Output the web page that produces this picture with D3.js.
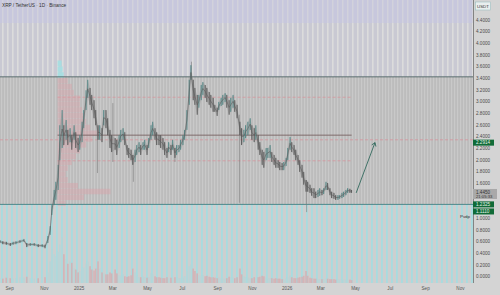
<!DOCTYPE html>
<html>
<head>
<meta charset="utf-8">
<script src="https://cdn.jsdelivr.net/npm/d3@7"></script>
<style>
  body { margin: 0; background: #d4d4d4; }
  svg { display: block; font-family: "Liberation Sans", Arial, sans-serif; }
</style>
</head>
<body>
<div id="chart"></div>
<script>
const WIDTH = 500;
const HEIGHT = 295;
const PLOT_W = 473;
const PLOT_H = 283;

// daily-ish samples of XRP/USDT, grouped by month
const dates = [
  '2024-08-16','2024-08-21','2024-08-27','2024-09-03','2024-09-08','2024-09-13','2024-09-20','2024-09-27','2024-10-02','2024-10-08','2024-10-15','2024-10-22','2024-10-29',
  '2024-11-03','2024-11-08','2024-11-12','2024-11-15','2024-11-19','2024-11-22','2024-11-26','2024-11-29',
  '2024-12-03','2024-12-06','2024-12-10','2024-12-13','2024-12-17','2024-12-20','2024-12-24','2024-12-27','2024-12-31',
  '2025-01-03','2025-01-07','2025-01-10','2025-01-14','2025-01-17','2025-01-21','2025-01-24','2025-01-28','2025-01-31',
  '2025-02-04','2025-02-07','2025-02-11','2025-02-14','2025-02-18','2025-02-21','2025-02-25','2025-02-28',
  '2025-03-06','2025-03-09','2025-03-13','2025-03-16','2025-03-20','2025-03-23','2025-03-27','2025-03-30',
  '2025-04-03','2025-04-06','2025-04-10','2025-04-13','2025-04-17','2025-04-20','2025-04-24','2025-04-27',
  '2025-05-01','2025-05-04','2025-05-08','2025-05-11','2025-05-15','2025-05-18','2025-05-22','2025-05-25','2025-05-29',
  '2025-06-01','2025-06-05','2025-06-08','2025-06-12','2025-06-15','2025-06-19','2025-06-22','2025-06-26','2025-06-29',
  '2025-07-03','2025-07-06','2025-07-10','2025-07-14','2025-07-17','2025-07-21','2025-07-24','2025-07-28','2025-07-31',
  '2025-08-04','2025-08-07','2025-08-11','2025-08-14','2025-08-18','2025-08-21','2025-08-25','2025-08-28',
  '2025-09-01','2025-09-04','2025-09-08','2025-09-11','2025-09-15','2025-09-18','2025-09-22','2025-09-25','2025-09-29',
  '2025-10-02','2025-10-06','2025-10-11','2025-10-14','2025-10-18','2025-10-21','2025-10-25','2025-10-29',
  '2025-11-01','2025-11-05','2025-11-08','2025-11-12','2025-11-15','2025-11-19','2025-11-22','2025-11-26','2025-11-29',
  '2025-12-03','2025-12-06','2025-12-10','2025-12-13','2025-12-17','2025-12-20','2025-12-24','2025-12-27','2025-12-31',
  '2026-01-03','2026-01-07','2026-01-10','2026-01-14','2026-01-17','2026-01-21','2026-01-24','2026-01-28','2026-01-31',
  '2026-02-04','2026-02-07','2026-02-11','2026-02-14','2026-02-18','2026-02-21','2026-02-25','2026-02-28',
  '2026-03-04','2026-03-07','2026-03-11','2026-03-14','2026-03-18','2026-03-21','2026-03-25','2026-03-28',
  '2026-04-01','2026-04-04','2026-04-08','2026-04-11','2026-04-15','2026-04-18','2026-04-22','2026-04-25'
];
const highs = [
  0.62,0.60,0.59,0.57,0.59,0.60,0.62,0.64,0.57,0.57,0.57,0.55,0.55,
  0.54,0.69,0.86,1.22,1.48,1.62,1.91,2.59,
  2.85,2.59,2.68,2.51,2.54,2.42,2.59,2.47,2.37,
  2.42,2.65,2.85,3.19,3.37,3.23,3.11,3.02,2.85,
  2.59,2.59,2.54,2.85,2.85,2.71,2.51,2.42,
  2.37,2.34,2.42,2.51,2.54,2.47,2.25,2.20,
  2.17,2.08,2.17,2.25,2.30,2.25,2.30,2.34,
  2.25,2.37,2.59,2.65,2.54,2.47,2.42,2.42,2.37,
  2.30,2.20,2.30,2.25,2.34,2.20,2.25,2.25,2.34,
  2.42,2.51,2.85,3.37,3.62,3.37,3.23,3.11,3.11,
  3.28,3.33,3.28,3.23,3.16,3.11,3.06,2.94,
  2.89,2.99,3.06,3.11,3.14,3.11,3.02,3.06,3.11,
  3.02,2.94,2.65,2.54,2.51,2.59,2.65,2.71,
  2.59,2.54,2.59,2.42,2.30,2.17,2.13,2.20,2.20,
  2.25,2.13,2.08,2.03,1.99,1.96,1.94,1.96,2.03,
  2.20,2.39,2.30,2.25,2.17,2.08,1.99,1.91,1.79,
  1.65,1.62,1.57,1.51,1.51,1.45,1.48,1.51,
  1.48,1.51,1.62,1.60,1.51,1.45,1.43,1.39,
  1.39,1.39,1.43,1.45,1.48,1.51,1.50,1.48
];
const lows = [
  0.57,0.55,0.54,0.52,0.54,0.55,0.57,0.59,0.50,0.52,0.52,0.50,0.50,
  0.48,0.57,0.71,1.05,1.22,1.31,1.48,1.99,
  2.20,2.25,2.34,2.25,2.30,2.17,2.34,2.20,2.13,
  2.17,2.30,2.54,2.85,3.06,2.94,2.85,2.71,2.59,
  2.34,2.34,2.30,2.59,2.54,2.42,2.20,2.13,
  2.17,2.08,2.20,2.30,2.34,2.25,2.08,2.03,
  1.99,1.91,1.96,2.08,2.13,2.08,2.17,2.17,
  2.08,2.20,2.34,2.42,2.34,2.25,2.25,2.20,2.17,
  2.08,2.03,2.13,2.08,2.17,2.03,2.08,2.13,2.17,
  2.25,2.34,2.51,2.94,3.37,3.02,2.94,2.77,2.89,
  3.02,3.11,3.06,2.99,2.94,2.89,2.82,2.82,
  2.75,2.85,2.92,2.94,2.99,2.89,2.77,2.82,2.89,
  2.82,2.71,2.42,2.25,2.30,2.37,2.42,2.51,
  2.34,2.30,2.34,2.17,2.08,1.91,1.86,1.99,2.03,
  2.03,1.96,1.91,1.86,1.86,1.82,1.82,1.82,1.89,
  1.99,2.17,2.13,2.08,1.99,1.91,1.79,1.69,1.57,
  1.45,1.45,1.43,1.38,1.34,1.34,1.36,1.38,
  1.39,1.41,1.48,1.48,1.39,1.34,1.33,1.31,
  1.31,1.33,1.34,1.36,1.39,1.43,1.43,1.43
];
const volumes = [
  10,9,11,10,9,10,12,11,13,10,9,10,11,
  12,22,45,70,60,55,65,80,
  95,60,50,40,45,42,30,28,22,
  25,28,32,40,45,35,28,26,30,
  45,30,22,20,18,18,22,20,
  28,20,16,15,18,14,13,14,
  16,30,22,15,12,12,14,12,
  11,12,20,18,14,12,12,11,10,
  10,12,10,11,10,12,11,10,10,
  12,14,25,35,38,30,25,20,16,
  15,16,14,15,13,12,12,11,
  10,11,10,10,9,10,13,12,11,
  10,12,30,18,14,12,11,10,
  10,12,11,12,13,15,14,11,10,
  10,10,9,10,9,9,8,8,9,
  12,16,12,10,10,11,12,13,15,
  25,15,11,10,9,9,8,8,
  8,8,10,9,8,8,8,7,
  7,7,7,7,7,7,7,6
];

// long wicks
const wickDates = ['2025-02-03','2025-03-02','2025-04-07','2025-06-19','2025-07-18','2025-10-10','2026-02-05'];
const wickHighs = [2.47, 2.97, 2.08, 2.20, 3.68, 2.77, 1.65];
const wickLows  = [1.77, 1.96, 1.62, 1.96, 3.37, 1.26, 1.10];

// fixed range volume profile
const profileStart = '2024-11-25';
const profileEnd = '2026-04-25';
const profilePrices  = [3.65,3.55,3.45,3.35,3.25,3.15,3.05,2.95,2.85,2.75,2.65,2.55,2.45,2.35,2.25,2.15,2.05,1.95,1.85,1.75,1.65,1.55,1.45,1.35,1.25];
const profileVolumes = [4,5,6,10,14,16,22,22,24,26,28,32,42,34,28,22,18,14,10,8,10,20,52,26,8];

// levels
const rangeHigh = 3.42;
const rangeLow = 1.2325;
const pocLevel = 2.42;
const dashLevels = [3.07, 2.34, 1.98];
const dashFull = [false, true, false];

const lastPrice = 1.4450;
const countdown = '21:05:33';
const targetPrice = 2.2914;
const lowPrice = 1.1110;

const arrowDates = ['2026-05-03', '2026-06-05'];
const arrowValues = [1.43, 2.2914];

const priceTicks = [4.4,4.2,4.0,3.8,3.6,3.4,3.2,3.0,2.8,2.6,2.4,2.2,2.0,1.8,1.6,1.0,0.8,0.6,0.4,0.2,0.0];
const timeTicks = ['2024-09-01','2024-11-01','2025-01-01','2025-03-01','2025-05-01','2025-07-01','2025-09-01','2025-11-01','2026-01-01','2026-03-01','2026-05-01','2026-07-01','2026-09-01','2026-11-01'];
const timeLabels = ['Sep','Nov','2025','Mar','May','Jul','Sep','Nov','2026','Mar','May','Jul','Sep','Nov'];

const parse = d3.timeParse('%Y-%m-%d');

const x = d3.scaleTime()
  .domain([parse('2024-08-16'), parse('2026-11-24')])
  .range([0, PLOT_W]);
const y = d3.scaleLinear()
  .domain([-0.116, 4.738])
  .range([PLOT_H, 0]);
const vol = d3.scaleLinear()
  .domain([0, 100])
  .range([0, 48]);
const prof = d3.scaleLinear()
  .domain([0, 52])
  .range([0, 53]);

const svg = d3.select('#chart').append('svg')
  .attr('width', WIDTH)
  .attr('height', HEIGHT);

// stripe textures
const defs = svg.append('defs');
function stripes(id, w, bg, fg, sx, sw) {
  const p = defs.append('pattern').attr('id', id)
    .attr('patternUnits', 'userSpaceOnUse')
    .attr('width', w).attr('height', 10);
  p.append('rect').attr('width', w).attr('height', 10).attr('fill', bg);
  p.append('rect').attr('x', sx).attr('width', sw).attr('height', 10).attr('fill', fg);
}
stripes('pSky', 5, '#c7c7dd', '#d2d2dc', 2, 1.5);
stripes('pTop', 5, '#c9c9d3', '#dcdcdc', 2, 1.6);
stripes('pRange', 3, '#bcbcbc', '#c9c9c9', 1, 1.2);
stripes('pLow', 5, '#cdcfcf', '#a8dce0', 1, 1.8);

const bg = svg.append('g').attr('id', 'background');
bg.append('rect').attr('width', PLOT_W).attr('height', y(rangeHigh)).attr('fill', 'url(#pSky)');
bg.append('rect').attr('y', 23).attr('width', PLOT_W).attr('height', y(rangeHigh) - 23).attr('fill', 'url(#pTop)');
bg.append('rect').attr('y', y(rangeHigh)).attr('width', PLOT_W)
  .attr('height', y(rangeLow) - y(rangeHigh)).attr('fill', 'url(#pRange)');
bg.append('rect').attr('y', y(rangeLow)).attr('width', PLOT_W)
  .attr('height', PLOT_H - y(rangeLow)).attr('fill', 'url(#pLow)');

// volume pane
const vols = svg.append('g').attr('id', 'volumes');
const mids = highs.map((h, i) => (h + lows[i]) / 2);
vols.selectAll('rect').data(d3.range(dates.length)).join('rect')
  .attr('x', i => x(parse(dates[i])) - 0.8)
  .attr('y', i => PLOT_H - vol(volumes[i]))
  .attr('width', 1.6)
  .attr('height', i => vol(volumes[i]))
  .attr('fill', i => i > 0 && mids[i] < mids[i - 1] ? '#d8a9ae' : '#b4d6d8')
  .attr('opacity', 0.75);

// dashed levels
const dash = svg.append('g').attr('id', 'dash');
dashLevels.forEach((lv, i) => {
  dash.append('line')
    .attr('x1', dashFull[i] ? 0 : x(parse(profileStart)))
    .attr('x2', dashFull[i] ? PLOT_W : x(parse(profileEnd)))
    .attr('y1', y(lv)).attr('y2', y(lv))
    .attr('stroke', '#d6949c').attr('stroke-width', 0.8)
    .attr('stroke-dasharray', '3,2');
});

// volume profile
const profile = svg.append('g').attr('id', 'profile');
const binH = y(0) - y(0.1);
profile.selectAll('rect').data(d3.range(profilePrices.length)).join('rect')
  .attr('x', x(parse(profileStart)))
  .attr('y', i => y(profilePrices[i] + 0.05))
  .attr('width', i => prof(profileVolumes[i]))
  .attr('height', binH - 0.4)
  .attr('fill', i => profilePrices[i] > rangeHigh ? '#a4dfe2' : '#dc9ea6')
  .attr('opacity', i => profilePrices[i] > rangeHigh ? 0.9 : 0.4);

// range lines
const lines = svg.append('g').attr('id', 'levels');
lines.append('line').attr('x1', 0).attr('x2', PLOT_W)
  .attr('y1', y(rangeHigh)).attr('y2', y(rangeHigh))
  .attr('stroke', '#4f6464').attr('stroke-width', 0.9);
lines.append('line').attr('x1', 0).attr('x2', PLOT_W)
  .attr('y1', y(rangeLow)).attr('y2', y(rangeLow))
  .attr('stroke', '#3e7f82').attr('stroke-width', 0.9);
lines.append('line').attr('x1', x(parse(profileStart))).attr('x2', x(parse(profileEnd)))
  .attr('y1', y(pocLevel)).attr('y2', y(pocLevel))
  .attr('stroke', '#6e5454').attr('stroke-width', 0.8);

// price
const price = svg.append('g').attr('id', 'price');
price.selectAll('line').data(d3.range(wickDates.length)).join('line')
  .attr('x1', i => x(parse(wickDates[i]))).attr('x2', i => x(parse(wickDates[i])))
  .attr('y1', i => y(wickHighs[i])).attr('y2', i => y(wickLows[i]))
  .attr('stroke', '#7a7a7a').attr('stroke-width', 0.6);

const area = d3.area()
  .x((d, i) => x(parse(dates[i])))
  .y0((d, i) => y(lows[i]))
  .y1((d, i) => y(highs[i]));
price.append('path').datum(highs)
  .attr('d', area)
  .attr('fill', '#777').attr('opacity', 0.22);

price.selectAll('rect').data(d3.range(dates.length)).join('rect')
  .attr('x', i => x(parse(dates[i])) - 0.45)
  .attr('y', i => y(highs[i]))
  .attr('width', 0.9)
  .attr('height', i => Math.max(1, y(lows[i]) - y(highs[i])))
  .attr('fill', i => i > 0 && mids[i] < mids[i - 1] ? '#505050' : '#4a8483');

const midLine = d3.line()
  .x((d, i) => x(parse(dates[i])))
  .y(d => y(d));
price.append('path').datum(mids)
  .attr('d', midLine)
  .attr('fill', 'none').attr('stroke', '#5c5c5c').attr('stroke-width', 0.6);

// projection arrow
const arrow = svg.append('g').attr('id', 'arrow');
const ax1 = x(parse(arrowDates[0])), ay1 = y(arrowValues[0]);
const ax2 = x(parse(arrowDates[1])), ay2 = y(arrowValues[1]);
arrow.append('line').attr('x1', ax1).attr('y1', ay1).attr('x2', ax2).attr('y2', ay2)
  .attr('stroke', '#1f5e50').attr('stroke-width', 0.8);
const ang = Math.atan2(ay2 - ay1, ax2 - ax1);
[-0.6, 0.6].forEach(da => {
  arrow.append('line').attr('x1', ax2).attr('y1', ay2)
    .attr('x2', ax2 - 4 * Math.cos(ang + da))
    .attr('y2', ay2 - 4 * Math.sin(ang + da))
    .attr('stroke', '#1f5e50').attr('stroke-width', 0.8);
});

// axis panels
svg.append('rect').attr('x', PLOT_W).attr('width', WIDTH - PLOT_W).attr('height', HEIGHT).attr('fill', '#d4d4d4');
svg.append('rect').attr('y', PLOT_H).attr('width', PLOT_W).attr('height', HEIGHT - PLOT_H).attr('fill', '#d4d4d4');
svg.append('line').attr('x1', PLOT_W + 0.5).attr('x2', PLOT_W + 0.5).attr('y1', 0).attr('y2', PLOT_H)
  .attr('stroke', '#6f6f6f').attr('stroke-width', 0.8);

const yAxis = svg.append('g')
  .attr('transform', `translate(${PLOT_W + 3}, 0)`)
  .call(d3.axisRight(y).tickValues(priceTicks).tickSize(0).tickPadding(0).tickFormat(d3.format('.4f')));
yAxis.select('.domain').remove();
yAxis.selectAll('text').attr('font-size', 4.6).attr('fill', '#4a4a4a')
  .attr('font-family', '"Liberation Sans", Arial, sans-serif');

const xAxis = svg.append('g')
  .attr('transform', `translate(0, ${PLOT_H + 3.5})`)
  .call(d3.axisBottom(x).tickValues(timeTicks.map(parse)).tickSize(0).tickPadding(0)
    .tickFormat((d, i) => timeLabels[i]));
xAxis.select('.domain').remove();
xAxis.selectAll('text').attr('font-size', 4.6).attr('fill', '#555')
  .attr('font-family', '"Liberation Sans", Arial, sans-serif');

// price markers on the scale
const marks = svg.append('g').attr('id', 'marks');
function tag(v, text, fill, color, h) {
  const yy = y(v);
  marks.append('rect').attr('x', PLOT_W).attr('y', yy - h / 2)
    .attr('width', 21).attr('height', h).attr('fill', fill);
  marks.append('text').attr('x', PLOT_W + 3).attr('y', yy + 1.6)
    .attr('font-size', 4.6).attr('fill', color).text(text);
}
tag(targetPrice, d3.format('.4f')(targetPrice), '#0f6b37', '#e8f5ec', 6);
tag(rangeLow, d3.format('.4f')(rangeLow), '#0f6b37', '#e8f5ec', 6);
tag(lowPrice, d3.format('.4f')(lowPrice), '#0f6b37', '#e8f5ec', 6);
marks.append('rect').attr('x', PLOT_W).attr('y', y(lastPrice) - 3)
  .attr('width', 24).attr('height', 10).attr('fill', '#a9a9a9');
marks.append('text').attr('x', PLOT_W + 3).attr('y', y(lastPrice) + 1.6)
  .attr('font-size', 4.6).attr('fill', '#333').text(d3.format('.4f')(lastPrice));
marks.append('text').attr('x', PLOT_W + 3).attr('y', y(lastPrice) + 6.3)
  .attr('font-size', 4.2).attr('fill', '#333').text(countdown);

// currency box
svg.append('rect').attr('x', 475.5).attr('y', 2).attr('width', 15).attr('height', 8)
  .attr('fill', '#e9eeee').attr('stroke', '#8fb8ba').attr('stroke-width', 0.5);
svg.append('text').attr('x', 477).attr('y', 7.6).attr('font-size', 4.4).attr('fill', '#333').text('USDT');

svg.append('text').attr('x', 460).attr('y', y(lowPrice) + 6.5)
  .attr('font-size', 4.4).attr('fill', '#333').text('Pvdp');

// title
svg.append('text').attr('x', 2).attr('y', 7)
  .attr('font-size', 4.7).attr('fill', '#333')
  .text('XRP / TetherUS · 1D · Binance');
</script>
</body>
</html>
